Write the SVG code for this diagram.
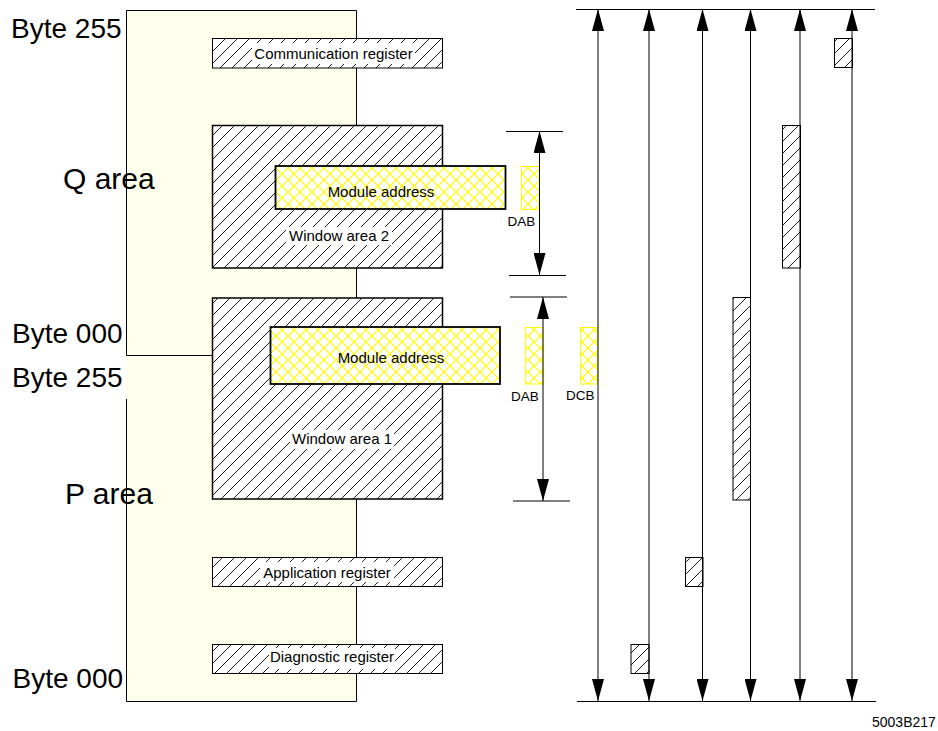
<svg xmlns="http://www.w3.org/2000/svg" width="938" height="731" viewBox="0 0 938 731">
<style>
text{font-family:"Liberation Sans",Arial,sans-serif;fill:#000}
.big{font-size:28px}
.area{font-size:30px}
.lbl{font-size:15px;text-anchor:middle}
.sm{font-size:13.5px}
.edge{stroke:#000;stroke-width:1;fill:none}
.hat{fill:url(#hatch);stroke:#000;stroke-width:1}
.hatw{fill:url(#hatch);stroke:#000;stroke-width:1.5}
.xh{fill:url(#cross);stroke:#000;stroke-width:1.8}
.xs{fill:url(#cross);stroke:#ffff00;stroke-width:1}
.wb{fill:#fff}
.ar{stroke:#000;stroke-width:1;fill:none;marker-start:url(#ah);marker-end:url(#ah)}
</style>
<defs>
<pattern id="hatch" patternUnits="userSpaceOnUse" width="12" height="12">
<rect width="12" height="12" fill="#fff"/>
<path d="M0,12 L12,0 M-3,3 L3,-3 M9,15 L15,9" stroke="#000" stroke-width="0.9"/>
</pattern>
<pattern id="cross" patternUnits="userSpaceOnUse" width="12" height="12">
<rect width="12" height="12" fill="#fff"/>
<line x1="0" y1="12" x2="12" y2="0" stroke="#ffff00" stroke-width="1.2"/>
<line x1="0" y1="0" x2="12" y2="12" stroke="#ffff00" stroke-width="1.2"/>
<line x1="-2" y1="2" x2="2" y2="-2" stroke="#ffff00" stroke-width="1.2"/>
<line x1="10" y1="14" x2="14" y2="10" stroke="#ffff00" stroke-width="1.2"/>
<line x1="-2" y1="10" x2="2" y2="14" stroke="#ffff00" stroke-width="1.2"/>
<line x1="10" y1="-2" x2="14" y2="2" stroke="#ffff00" stroke-width="1.2"/>
</pattern>
<marker id="ah" viewBox="0 0 22 12" refX="22" refY="6" markerWidth="22" markerHeight="12" markerUnits="userSpaceOnUse" orient="auto-start-reverse">
<path d="M0,0 L22,6 L0,12 z" fill="#000"/>
</marker>
</defs>
<rect width="938" height="731" fill="#fff"/>

<g id="memory-panel">
<rect x="126" y="10" width="230" height="691" fill="#ffffec"/>
<path class="edge" d="M126.5,355.5 L126.5,10.5 L356.5,10.5 L356.5,701.5 M126.5,355.5 L212,355.5 M126.5,399 L126.5,701.5 L356.5,701.5"/>
</g>

<g id="labels-left">
<text class="big" x="11" y="38">Byte 255</text>
<text class="area" x="63" y="189">Q area</text>
<text class="big" x="12" y="343">Byte 000</text>
<text class="big" x="12" y="387">Byte 255</text>
<text class="area" x="65" y="504">P area</text>
<text class="big" x="12.5" y="688">Byte 000</text>
</g>

<g id="communication-register">
<rect class="hat" x="212.5" y="38.5" width="230" height="29.5"/>
<rect class="wb" x="252" y="43" width="163" height="21"/>
<text class="lbl" x="333.5" y="59">Communication register</text>
</g>

<g id="window-area-2">
<rect class="hatw" x="212.5" y="125.5" width="230" height="142.5"/>
<rect class="wb" x="286" y="227" width="106" height="18"/>
<text class="lbl" x="339" y="240.5">Window area 2</text>
</g>

<g id="module-address-2">
<rect class="xh" x="275.5" y="166" width="230" height="43"/>
<text class="lbl" x="381" y="196.5">Module address</text>
</g>

<g id="window-area-1">
<rect class="hatw" x="212.5" y="298" width="230" height="201"/>
<rect class="wb" x="290" y="430" width="104" height="19"/>
<text class="lbl" x="342" y="444">Window area 1</text>
</g>

<g id="module-address-1">
<rect class="xh" x="270.5" y="327" width="229.5" height="57"/>
<text class="lbl" x="391" y="362.5">Module address</text>
</g>

<g id="application-register">
<rect class="hat" x="212.5" y="557.5" width="230" height="29"/>
<rect class="wb" x="260" y="562" width="134" height="20"/>
<text class="lbl" x="327" y="578">Application register</text>
</g>

<g id="diagnostic-register">
<rect class="hat" x="212.5" y="644.5" width="230" height="29"/>
<rect class="wb" x="269" y="648" width="126" height="21"/>
<text class="lbl" x="332" y="662">Diagnostic register</text>
</g>

<g id="dab-2">
<rect class="xs" x="521.5" y="166.5" width="17.5" height="43"/>
<text class="sm" x="507.5" y="226">DAB</text>
</g>

<g id="dab-1">
<rect class="xs" x="525.5" y="327.5" width="17.5" height="56.5"/>
<text class="sm" x="511" y="401">DAB</text>
</g>

<g id="dcb">
<rect class="xs" x="580.5" y="327.5" width="17" height="56.5"/>
<text class="sm" x="566" y="399.5">DCB</text>
</g>

<g id="mini-blocks">
<rect class="hat" x="834.5" y="38.5" width="18" height="29"/>
<rect class="hat" x="782.5" y="125.5" width="18" height="142.5"/>
<rect class="hat" x="733" y="297.5" width="17.5" height="202.5"/>
<rect class="hat" x="685.5" y="557.5" width="17.5" height="29"/>
<rect class="hat" x="631" y="644.5" width="18" height="29"/>
</g>

<g id="connectors">
<path class="edge" d="M576,9.5 L875,9.5"/>
<path class="edge" d="M577,701.5 L876,701.5"/>
<path class="ar" d="M598,9 L598,701"/>
<path class="ar" d="M649,9 L649,701"/>
<path class="ar" d="M702.5,9 L702.5,701"/>
<path class="ar" d="M750.5,9 L750.5,701"/>
<path class="ar" d="M800,9 L800,701"/>
<path class="ar" d="M852,9 L852,701"/>
<path class="edge" d="M506,131.5 L563,131.5 M509,275.5 L566,275.5"/>
<path class="ar" d="M539.5,131 L539.5,275"/>
<path class="edge" d="M510,297 L567,297 M513,501 L570,501"/>
<path class="ar" d="M543,297 L543,501"/>
</g>

<text x="872" y="727" style="font-size:14px">5003B217</text>
</svg>
